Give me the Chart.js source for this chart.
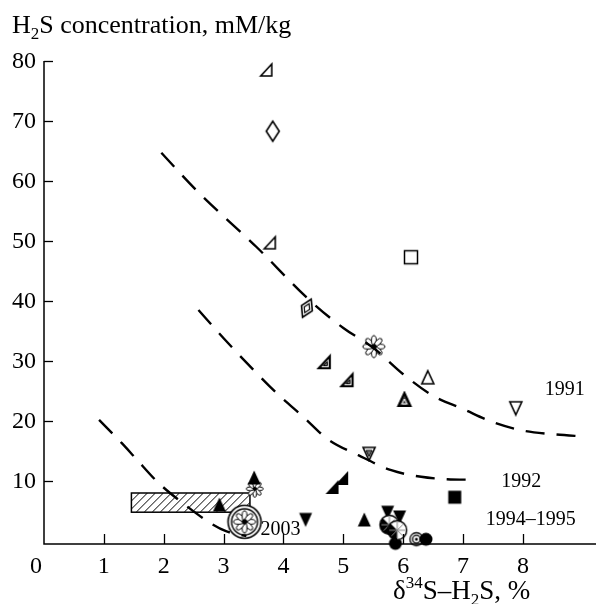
<!DOCTYPE html>
<html>
<head>
<meta charset="utf-8">
<script src="https://cdn.jsdelivr.net/npm/chart.js@4.4.1/dist/chart.umd.min.js"></script>
<style>
  html, body { margin: 0; padding: 0; background: #fff; }
  canvas { display: block; }
</style>
</head>
<body>
<canvas id="chart" width="596" height="604"></canvas>
<script>
const X_TICKS = [1, 2, 3, 4, 5, 6, 7, 8];
const Y_TICKS = [10, 20, 30, 40, 50, 60, 70, 80];

// dashed trend curves [x, y]
const curve1991 = [[1.96, 64.7], [2.57, 58.2], [3.55, 49], [4.45, 40], [5.0, 35.5], [5.5, 32.2], [6.0, 27.8], [6.5, 24.2], [7.0, 22], [7.5, 19.8], [8.0, 18.4], [8.5, 17.8], [9.05, 17.4]];
const curve1992 = [[2.58, 38.5], [3.0, 33.8], [3.5, 28.5], [3.88, 24.7], [4.33, 20.7], [4.75, 16.9], [5.25, 14.3], [5.8, 11.8], [6.3, 10.7], [6.73, 10.3], [7.2, 10.2]];
const curve2003 = [[0.92, 20.2], [1.3, 16.3], [1.53, 13.8], [1.9, 9.8], [2.32, 6.3], [2.81, 2.8], [3.05, 1.6], [3.38, 0.8]];

// hatched range box
const boxX = [1.46, 3.44];
const boxY = [4.8, 8.0];

// marker groups [x, y]
const openRightTri = [[3.72, 78.5], [3.78, 49.7]];
const openDiamond = [[3.82, 68.3]];
const doubleDiamond = [[4.39, 38.8]];
const openSquare = [[6.13, 47.3]];
const bigFlower = [[5.51, 32.4]];
const openTri = [[6.41, 27.2]];
const openTriDown = [[7.88, 22.2]];
const hatchRightTri = [[4.69, 29.8], [5.07, 26.8]];
const hatchTri = [[6.02, 23.5]];
const hatchTriDown = [[5.43, 14.6]];
const filledTri = [[2.93, 6.0], [3.51, 10.5], [5.35, 3.5]];
const smallFlower = [[3.52, 8.7]];
const circledFlower = [[3.35, 3.2]];
const filledTriDown = [[4.37, 3.6], [5.74, 4.8], [5.94, 4.0]];
const filledRightTri = [[4.82, 9.0], [4.98, 10.5]];
const spokeCircle = [[5.77, 2.7], [5.9, 1.8]];
const filledCircle = [[5.87, -0.4], [6.38, 0.3]];
const bullseye = [[6.22, 0.3]];
const filledSquare = [[6.86, 7.3]];

const curveLabels = [
  { text: "1991", x: 8.7, y: 25.2 },
  { text: "1992", x: 7.97, y: 9.8 },
  { text: "1994–1995", x: 8.13, y: 3.5 },
  { text: "2003", x: 3.95, y: 1.8 },
];

const SERIF = "'Liberation Serif', 'Times New Roman', serif";

function mk(w, h, draw) {
  const c = document.createElement("canvas");
  c.width = w;
  c.height = h;
  const g = c.getContext("2d");
  g.translate(w / 2, h / 2);
  g.strokeStyle = "#000";
  g.fillStyle = "#000";
  g.lineWidth = 1.6;
  draw(g);
  return c;
}

function poly(g, pts) {
  g.beginPath();
  g.moveTo(pts[0][0], pts[0][1]);
  for (let i = 1; i < pts.length; i += 1) g.lineTo(pts[i][0], pts[i][1]);
  g.closePath();
}

function petals(g, R) {
  for (let i = 0; i < 8; i += 1) {
    const a = (i * Math.PI) / 4;
    g.beginPath();
    g.ellipse(Math.cos(a) * R * 0.55, Math.sin(a) * R * 0.55, R * 0.45, R * 0.22, a, 0, Math.PI * 2);
    g.fillStyle = "#fff";
    g.fill();
    g.lineWidth = 1;
    g.stroke();
  }
  g.beginPath();
  g.arc(0, 0, R * 0.25, 0, Math.PI * 2);
  g.fillStyle = "#000";
  g.fill();
}

const markers = {
  openRightTri: mk(18, 18, (g) => { poly(g, [[5, -6], [5, 6], [-6, 6]]); g.stroke(); }),
  openDiamond: mk(18, 26, (g) => { poly(g, [[0, -10], [6.5, 0], [0, 10], [-6.5, 0]]); g.fillStyle = "#fff"; g.fill(); g.stroke(); }),
  doubleDiamond: mk(24, 26, (g) => {
    g.rotate(0.45);
    poly(g, [[0, -10], [6, 0], [0, 10], [-6, 0]]); g.fillStyle = "#fff"; g.fill(); g.stroke();
    poly(g, [[0, -5], [3, 0], [0, 5], [-3, 0]]); g.lineWidth = 1.2; g.stroke();
  }),
  openSquare: mk(18, 18, (g) => { g.lineWidth = 1.5; g.fillStyle = "#fff"; g.fillRect(-6.5, -6.5, 13, 13); g.strokeRect(-6.5, -6.5, 13, 13); }),
  bigFlower: mk(26, 26, (g) => petals(g, 11)),
  openTri: mk(18, 18, (g) => { poly(g, [[0, -7], [6, 6], [-6, 6]]); g.fillStyle = "#fff"; g.fill(); g.stroke(); }),
  openTriDown: mk(18, 18, (g) => { poly(g, [[0, 7], [6, -6], [-6, -6]]); g.fillStyle = "#fff"; g.fill(); g.stroke(); }),
  hatchRightTri: mk(18, 18, (g) => {
    g.lineWidth = 2.2;
    poly(g, [[5, -6], [5, 6], [-6, 6]]); g.fillStyle = "#fff"; g.fill(); g.stroke();
    g.lineWidth = 1;
    poly(g, [[2.5, -0.5], [2.5, 3.5], [-1.5, 3.5]]); g.fillStyle = "#777"; g.fill(); g.stroke();
  }),
  hatchTri: mk(18, 18, (g) => {
    g.lineWidth = 2.2;
    poly(g, [[0, -7], [6, 6], [-6, 6]]); g.fillStyle = "#444"; g.fill(); g.stroke();
    g.lineWidth = 1; g.strokeStyle = "#fff";
    poly(g, [[0, -1], [2.5, 4], [-2.5, 4]]); g.stroke();
  }),
  hatchTriDown: mk(18, 18, (g) => {
    g.lineWidth = 1.6;
    poly(g, [[0, 7], [6, -6], [-6, -6]]); g.fillStyle = "#fff"; g.fill(); g.stroke();
    g.lineWidth = 1;
    poly(g, [[0, 3], [3, -3], [-3, -3]]); g.fillStyle = "#777"; g.fill(); g.stroke();
  }),
  filledTri: mk(18, 18, (g) => { poly(g, [[0, -7.5], [6.5, 6.5], [-6.5, 6.5]]); g.fill(); }),
  smallFlower: mk(20, 20, (g) => petals(g, 8.5)),
  circledFlower: mk(38, 38, (g) => {
    g.beginPath(); g.arc(0, 0, 16.5, 0, Math.PI * 2); g.fillStyle = "#fff"; g.fill(); g.lineWidth = 1.6; g.stroke();
    g.beginPath(); g.arc(0, 0, 13, 0, Math.PI * 2); g.lineWidth = 1.4; g.stroke();
    petals(g, 11);
  }),
  filledTriDown: mk(18, 18, (g) => { poly(g, [[0, 7.5], [6.5, -6.5], [-6.5, -6.5]]); g.fill(); }),
  filledRightTri: mk(18, 18, (g) => { poly(g, [[6, -7], [6, 7], [-7, 7]]); g.fill(); }),
  spokeCircle: mk(24, 24, (g) => {
    g.beginPath(); g.arc(0, 0, 9.5, 0, Math.PI * 2); g.fillStyle = "#fff"; g.fill();
    g.beginPath(); g.moveTo(0, 0); g.arc(0, 0, 9.5, Math.PI * 0.5, Math.PI * 1.25); g.closePath(); g.fillStyle = "#000"; g.fill();
    g.beginPath(); g.arc(0, 0, 9.5, 0, Math.PI * 2); g.lineWidth = 1.4; g.stroke();
    g.lineWidth = 1;
    for (let i = 0; i < 8; i += 1) {
      const a = (i * Math.PI) / 4;
      g.beginPath(); g.moveTo(0, 0); g.lineTo(Math.cos(a) * 8, Math.sin(a) * 8);
      g.strokeStyle = "#888"; g.stroke();
    }
  }),
  filledCircle: mk(16, 16, (g) => { g.beginPath(); g.arc(0, 0, 6.5, 0, Math.PI * 2); g.fill(); }),
  bullseye: mk(18, 18, (g) => {
    g.beginPath(); g.arc(0, 0, 6.5, 0, Math.PI * 2); g.fillStyle = "#fff"; g.fill(); g.lineWidth = 1.3; g.stroke();
    g.beginPath(); g.arc(0, 0, 3.8, 0, Math.PI * 2); g.stroke();
    g.beginPath(); g.arc(0, 0, 1.5, 0, Math.PI * 2); g.fillStyle = "#000"; g.fill();
  }),
  filledSquare: mk(18, 18, (g) => { g.fillRect(-6.5, -6.5, 13, 13); }),
};

const toPts = (arr) => arr.map(([x, y]) => ({ x, y }));

function curveSet(pts) {
  return { type: "line", data: toPts(pts), borderColor: "#000", borderWidth: 2.4, borderDash: [19, 12], pointRadius: 0, tension: 0.4, cubicInterpolationMode: "monotone", fill: false, clip: false };
}

function markerSet(pts, style) {
  return { type: "scatter", data: toPts(pts), pointStyle: markers[style], pointRadius: 8, clip: false };
}

const hatchBoxPlugin = {
  id: "hatchBox",
  beforeDatasetsDraw(c) {
    const { ctx, scales } = c;
    const x0 = scales.x.getPixelForValue(boxX[0]);
    const x1 = scales.x.getPixelForValue(boxX[1]);
    const y0 = scales.y.getPixelForValue(boxY[1]);
    const y1 = scales.y.getPixelForValue(boxY[0]);
    ctx.save();
    ctx.beginPath();
    ctx.rect(x0, y0, x1 - x0, y1 - y0);
    ctx.clip();
    ctx.strokeStyle = "#000";
    ctx.lineWidth = 1;
    for (let s = x0 - (y1 - y0); s < x1 + 10; s += 8) {
      ctx.beginPath();
      ctx.moveTo(s, y1);
      ctx.lineTo(s + (y1 - y0), y0);
      ctx.stroke();
    }
    ctx.restore();
    ctx.save();
    ctx.lineWidth = 1.5;
    ctx.strokeRect(x0, y0, x1 - x0, y1 - y0);
    ctx.restore();
  },
};

function drawRich(ctx, x, y, parts) {
  let cx = x;
  parts.forEach((p) => {
    ctx.font = `${p.size}px ${SERIF}`;
    ctx.fillText(p.t, cx, y + (p.dy || 0));
    cx += ctx.measureText(p.t).width;
  });
}

const axesPlugin = {
  id: "axesText",
  afterDraw(c) {
    const { ctx, scales } = c;
    const sx = scales.x, sy = scales.y;
    const x0 = sx.getPixelForValue(0);
    const yBase = sy.bottom;
    ctx.save();
    ctx.strokeStyle = "#000";
    ctx.fillStyle = "#000";
    ctx.lineWidth = 1.5;
    // axis lines
    ctx.beginPath();
    ctx.moveTo(x0, sy.getPixelForValue(80));
    ctx.lineTo(x0, yBase);
    ctx.lineTo(c.width, yBase);
    ctx.stroke();
    // inward ticks
    ctx.lineWidth = 1.3;
    Y_TICKS.forEach((v) => {
      const p = Math.round(sy.getPixelForValue(v)) + 0.5;
      ctx.beginPath(); ctx.moveTo(x0, p); ctx.lineTo(x0 + 9, p); ctx.stroke();
    });
    X_TICKS.forEach((v) => {
      const p = Math.round(sx.getPixelForValue(v)) + 0.5;
      ctx.beginPath(); ctx.moveTo(p, yBase); ctx.lineTo(p, yBase - 10); ctx.stroke();
    });
    // tick labels
    ctx.font = `24px ${SERIF}`;
    ctx.textAlign = "right";
    ctx.textBaseline = "middle";
    Y_TICKS.forEach((v) => ctx.fillText(String(v), x0 - 8, sy.getPixelForValue(v) + 1));
    ctx.textAlign = "center";
    ctx.textBaseline = "alphabetic";
    X_TICKS.forEach((v) => ctx.fillText(String(v), sx.getPixelForValue(v), 573));
    ctx.fillText("0", x0 - 8, 573);
    // curve labels
    ctx.font = `20px ${SERIF}`;
    ctx.textBaseline = "middle";
    curveLabels.forEach((l) => ctx.fillText(l.text, sx.getPixelForValue(l.x), sy.getPixelForValue(l.y)));
    // titles
    ctx.textAlign = "left";
    ctx.textBaseline = "alphabetic";
    drawRich(ctx, 12, 33, [
      { t: "H", size: 26 }, { t: "2", size: 17, dy: 6 }, { t: "S concentration, mM/kg", size: 26 },
    ]);
    drawRich(ctx, 393, 599, [
      { t: "δ", size: 27 }, { t: "34", size: 17, dy: -11 }, { t: "S–H", size: 27 }, { t: "2", size: 17, dy: 6 }, { t: "S, %", size: 27 },
    ]);
    ctx.restore();
  },
};

new Chart(document.getElementById("chart"), {
  data: {
    datasets: [
      curveSet(curve1991),
      curveSet(curve1992),
      curveSet(curve2003),
      markerSet(openRightTri, "openRightTri"),
      markerSet(openDiamond, "openDiamond"),
      markerSet(doubleDiamond, "doubleDiamond"),
      markerSet(openSquare, "openSquare"),
      markerSet(bigFlower, "bigFlower"),
      markerSet(openTri, "openTri"),
      markerSet(openTriDown, "openTriDown"),
      markerSet(hatchRightTri, "hatchRightTri"),
      markerSet(hatchTri, "hatchTri"),
      markerSet(hatchTriDown, "hatchTriDown"),
      markerSet(filledTri, "filledTri"),
      markerSet(smallFlower, "smallFlower"),
      markerSet(circledFlower, "circledFlower"),
      markerSet(spokeCircle, "spokeCircle"),
      markerSet(filledTriDown, "filledTriDown"),
      markerSet(filledRightTri, "filledRightTri"),
      markerSet(filledCircle, "filledCircle"),
      markerSet(bullseye, "bullseye"),
      markerSet(filledSquare, "filledSquare"),
    ],
  },
  options: {
    responsive: false,
    animation: false,
    events: [],
    layout: { padding: { left: 44, right: 1, top: 61, bottom: 60 } },
    plugins: { legend: { display: false }, tooltip: { enabled: false } },
    scales: {
      x: { type: "linear", min: 0, max: 9.07, display: false },
      y: { type: "linear", min: -0.5, max: 80, display: false },
    },
  },
  plugins: [hatchBoxPlugin, axesPlugin],
});
</script>
</body>
</html>
